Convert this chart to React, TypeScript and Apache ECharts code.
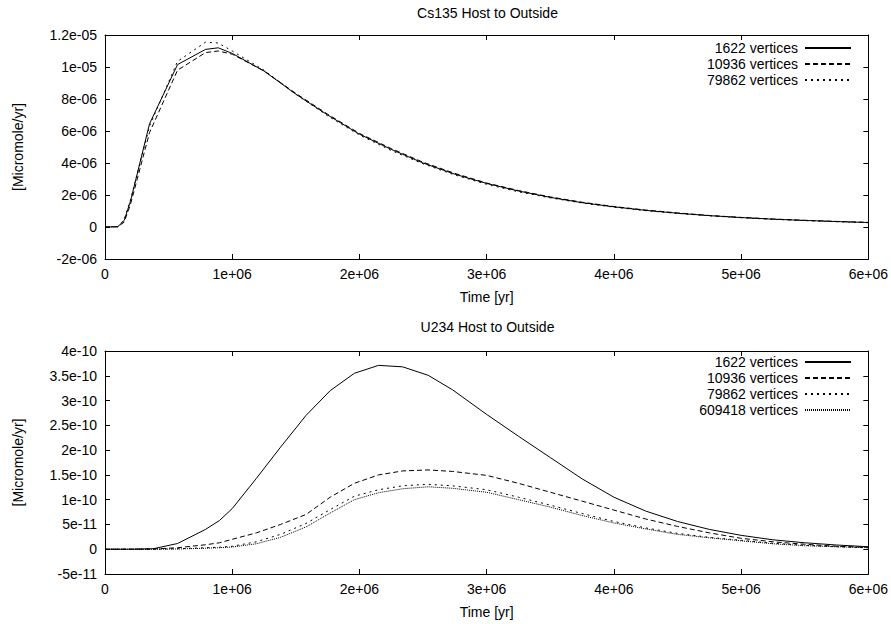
import React, { useEffect, useRef } from 'react';
import * as echarts from 'echarts';

const FONT = '"Liberation Sans", Arial, Helvetica, sans-serif';
const FS = 14;

// ---- Cs135 (time in 1e6 yr, values in 1e-6 micromole/yr) ----
const csTime = [0, 0.1, 0.15, 0.2, 0.35, 0.57, 0.79, 0.89, 1.0, 1.25, 1.5, 1.75, 2.0, 2.25, 2.5, 2.75, 3.0, 3.25, 3.5, 3.75, 4.0, 4.25, 4.5, 4.75, 5.0, 5.25, 5.5, 5.75, 6.0];
const cs1622 = [0, 0.02, 0.4, 1.6, 6.45, 10.15, 11.1, 11.2, 10.85, 9.75, 8.3, 7.0, 5.8, 4.85, 4.0, 3.3, 2.72, 2.25, 1.85, 1.52, 1.26, 1.04, 0.86, 0.71, 0.59, 0.49, 0.41, 0.34, 0.28];
const cs10936 = [0, 0.01, 0.3, 1.4, 5.9, 9.8, 10.9, 11.0, 10.8, 9.75, 8.35, 7.05, 5.85, 4.9, 4.05, 3.35, 2.75, 2.28, 1.88, 1.55, 1.28, 1.06, 0.88, 0.72, 0.6, 0.5, 0.42, 0.35, 0.29];
const cs79862 = [0, 0.02, 0.45, 1.7, 6.3, 10.35, 11.55, 11.5, 11.0, 9.8, 8.3, 6.95, 5.75, 4.78, 3.95, 3.25, 2.67, 2.2, 1.82, 1.5, 1.24, 1.02, 0.85, 0.7, 0.58, 0.48, 0.4, 0.33, 0.27];

// ---- U234 (time in 1e6 yr, values in 1e-10 micromole/yr) ----
const uTime = [0, 0.2, 0.38, 0.57, 0.79, 0.9, 1.0, 1.19, 1.38, 1.58, 1.77, 1.96, 2.15, 2.34, 2.54, 2.73, 3.0, 3.25, 3.5, 3.75, 4.0, 4.25, 4.5, 4.75, 5.0, 5.25, 5.5, 5.75, 6.0];
const u1622 = [0, 0, 0.01, 0.115, 0.4, 0.58, 0.82, 1.43, 2.06, 2.7, 3.2, 3.55, 3.71, 3.68, 3.51, 3.22, 2.72, 2.28, 1.85, 1.42, 1.05, 0.77, 0.56, 0.4, 0.28, 0.19, 0.13, 0.085, 0.05];
const u10936 = [0, 0, 0.005, 0.03, 0.09, 0.13, 0.2, 0.33, 0.5, 0.7, 1.05, 1.33, 1.5, 1.58, 1.6, 1.57, 1.49, 1.33, 1.15, 0.97, 0.79, 0.61, 0.46, 0.33, 0.22, 0.15, 0.1, 0.06, 0.04];
const u79862 = [0, 0, 0, 0.01, 0.03, 0.04, 0.06, 0.15, 0.3, 0.52, 0.8, 1.07, 1.2, 1.28, 1.31, 1.28, 1.2, 1.05, 0.89, 0.72, 0.56, 0.43, 0.32, 0.24, 0.18, 0.12, 0.08, 0.05, 0.03];
const u609418 = [0, 0, 0, 0.005, 0.02, 0.03, 0.045, 0.11, 0.24, 0.45, 0.73, 1.0, 1.14, 1.22, 1.26, 1.23, 1.15, 1.0, 0.85, 0.68, 0.53, 0.41, 0.3, 0.23, 0.17, 0.11, 0.07, 0.05, 0.03];

const seriesNames = ['1622 vertices', '10936 vertices', '79862 vertices', '609418 vertices'];
const titles = ['Cs135 Host to Outside', 'U234 Host to Outside'];
const xName = 'Time [yr]';
const yName = '[Micromole/yr]';

const TIME_UNIT = 1e6;
const CS_UNIT = 1e-6;
const U_UNIT = 1e-10;

const dashes: any[] = ['solid', [5, 3], [2, 4], [1, 1]];

function fmt(v: number): string {
  if (Math.abs(v) < 1e-15) return '0';
  const s = Number(v.toPrecision(6)).toExponential();
  return s.replace(/e([+-])(\d+)$/, (_m, sg, d) => 'e' + sg + (d.length < 2 ? '0' + d : d));
}

const GRID_L = 105;
const GRID_W = 765;
const grids = [
  { left: GRID_L, top: 35, width: GRID_W, height: 224 },
  { left: GRID_L, top: 351, width: GRID_W, height: 223 },
];

const axisLine = { show: true, onZero: false, lineStyle: { color: '#000', width: 1 } };
const tick = { show: true, inside: true, length: 5, lineStyle: { color: '#000' } };
const lbl = { color: '#000', fontFamily: FONT, fontSize: FS };

function xAxes(gi: number) {
  return [
    {
      type: 'value', gridIndex: gi, position: 'bottom', min: 0, max: 6e6, interval: 1e6,
      axisLine, axisTick: tick, splitLine: { show: false },
      axisLabel: { ...lbl, margin: 8, formatter: fmt },
      name: xName, nameLocation: 'middle', nameGap: 31,
      nameTextStyle: { ...lbl },
    },
    {
      type: 'value', gridIndex: gi, position: 'top', min: 0, max: 6e6, interval: 1e6,
      axisLine, axisTick: tick, splitLine: { show: false }, axisLabel: { show: false },
    },
  ];
}

function yAxes(gi: number, min: number, max: number, interval: number) {
  return [
    {
      type: 'value', gridIndex: gi, position: 'left', min, max, interval,
      axisLine, axisTick: tick, splitLine: { show: false },
      axisLabel: { ...lbl, margin: 8, formatter: fmt },
      name: yName, nameLocation: 'middle', nameGap: 80, nameRotate: 90,
      nameTextStyle: { ...lbl },
    },
    {
      type: 'value', gridIndex: gi, position: 'right', min, max, interval,
      axisLine, axisTick: tick, splitLine: { show: false }, axisLabel: { show: false },
    },
  ];
}

function mk(name: string, idx: number, axisIdx: number, time: number[], vals: number[], unit: number) {
  return {
    type: 'line', name, xAxisIndex: axisIdx, yAxisIndex: axisIdx,
    data: time.map((t, i) => [t * TIME_UNIT, vals[i] * unit]),
    symbol: 'none', showSymbol: false, smooth: false,
    lineStyle: { color: '#000', width: 1, type: dashes[idx] },
    itemStyle: { color: '#000' },
    emphasis: { disabled: true },
  };
}

const legendCommon = {
  orient: 'vertical', align: 'right', right: 39, padding: 0,
  itemWidth: 46, itemHeight: 14, itemGap: 2,
  textStyle: { color: '#000', fontFamily: FONT, fontSize: FS, padding: [0, 2, 0, 0] },
  itemStyle: { color: 'rgba(0,0,0,0)', borderColor: 'rgba(0,0,0,0)', borderWidth: 0, opacity: 0 },
  selectedMode: false,
};

const option: any = {
  animation: false,
  backgroundColor: '#fff',
  textStyle: { fontFamily: FONT },
  graphic: [
    { type: 'text', x: GRID_L + GRID_W / 2, y: 13, silent: true, style: { text: titles[0], fill: '#000', font: `${FS}px ${FONT}`, align: 'center', verticalAlign: 'middle' } },
    { type: 'text', x: GRID_L + GRID_W / 2, y: 327, silent: true, style: { text: titles[1], fill: '#000', font: `${FS}px ${FONT}`, align: 'center', verticalAlign: 'middle' } },
  ],
  grid: grids,
  xAxis: [...xAxes(0), ...xAxes(1)],
  yAxis: [...yAxes(0, -2e-6, 1.2e-5, 2e-6), ...yAxes(1, -5e-11, 4e-10, 5e-11)],
  legend: [
    { ...legendCommon, top: 41, data: seriesNames.slice(0, 3) },
    { ...legendCommon, top: 355, data: seriesNames.slice(0, 4) },
  ],
  series: [
    mk(seriesNames[0], 0, 0, csTime, cs1622, CS_UNIT),
    mk(seriesNames[1], 1, 0, csTime, cs10936, CS_UNIT),
    mk(seriesNames[2], 2, 0, csTime, cs79862, CS_UNIT),
    mk(seriesNames[0], 0, 2, uTime, u1622, U_UNIT),
    mk(seriesNames[1], 1, 2, uTime, u10936, U_UNIT),
    mk(seriesNames[2], 2, 2, uTime, u79862, U_UNIT),
    mk(seriesNames[3], 3, 2, uTime, u609418, U_UNIT),
  ],
};

export default function App() {
  const ref = useRef<HTMLDivElement>(null);
  useEffect(() => {
    const chart = echarts.init(ref.current!, null, { renderer: 'svg' });
    chart.setOption(option);
    return () => chart.dispose();
  }, []);
  return (
    <div
      ref={ref}
      style={{ position: 'fixed', left: 0, top: 0, width: 891, height: 624, background: '#fff' }}
    />
  );
}
